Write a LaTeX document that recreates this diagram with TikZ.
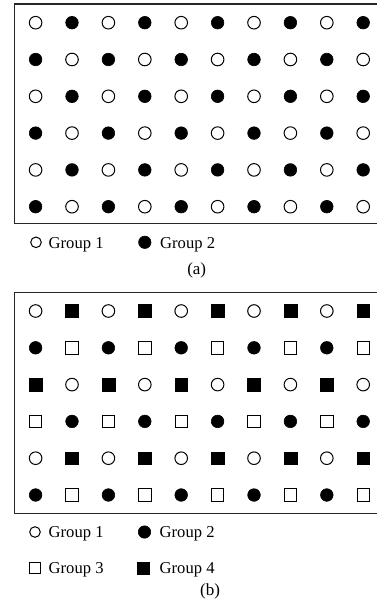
\documentclass[tikz,border=0pt]{standalone}
\usepackage{fontspec}
\setmainfont{Liberation Serif}
\begin{document}
\begin{tikzpicture}[x=1pt,y=-1pt,
  frame/.style={draw=black!85,line width=1.4pt},
  gone/.style={circle,draw=black,line width=1.0pt,fill=white,minimum size=12.6pt,inner sep=0pt},
  gtwo/.style={circle,draw=black,line width=0.6pt,fill=black,minimum size=12.6pt,inner sep=0pt},
  gthree/.style={rectangle,draw=black,line width=1.0pt,fill=white,minimum size=12.4pt,inner sep=0pt},
  gfour/.style={rectangle,draw=black,line width=0.6pt,fill=black,minimum size=12.8pt,inner sep=0pt},
  lone/.style={gone,minimum size=10.6pt},
  ltwo/.style={gtwo,minimum size=12.4pt},
  lthree/.style={gthree,minimum size=11.2pt},
  lfour/.style={gfour,minimum size=11.8pt},
  lab/.style={anchor=base west,inner sep=0pt,font=\fontsize{16.6}{19}\selectfont},
  captext/.style={anchor=base,inner sep=0pt,font=\fontsize{17}{19}\selectfont}]
\useasboundingbox (0,0) rectangle (377,602);
\clip (0,0) rectangle (377,602);
% frames
\coordinate (fa1) at (14.5,4);
\coordinate (fa2) at (395,223.3);
\draw[frame] (fa1) rectangle (fa2);
\coordinate (fb1) at (14.5,292.3);
\coordinate (fb2) at (395,513.3);
\draw[frame] (fb1) rectangle (fb2);
% panel (a)
\foreach \r in {0,...,5}{
  \foreach \c in {0,...,9}{
    \pgfmathtruncatemacro{\p}{mod(\r+\c,2)}
    \ifnum\p=0
      \node[gone] (a-\r-\c) at ({35.6+36.4*\c},{22.7+36.8*\r}) {};
    \else
      \node[gtwo] (a-\r-\c) at ({35.6+36.4*\c},{22.7+36.8*\r}) {};
    \fi
  }
}
\node[lone] (la1) at (36,242.3) {};
\node[lab] (ta1) at (48.5,248.8) {Group 1};
\node[ltwo] (la2) at (144.8,242.3) {};
\node[lab] (ta2) at (160,248.8) {Group 2};
\node[captext] (capa) at (196.7,274.7) {(a)};
% panel (b)
\foreach \r in {0,...,5}{
  \foreach \c in {0,...,9}{
    \pgfmathtruncatemacro{\rr}{mod(\r,4)}
    \pgfmathtruncatemacro{\p}{mod(\c,2)}
    \pgfmathtruncatemacro{\k}{\rr*2+\p}
    \ifcase\k
      \node[gone] (b-\r-\c) at ({35.6+36.4*\c},{311+36.8*\r}) {};
    \or
      \node[gfour] (b-\r-\c) at ({35.6+36.4*\c},{311+36.8*\r}) {};
    \or
      \node[gtwo] (b-\r-\c) at ({35.6+36.4*\c},{311+36.8*\r}) {};
    \or
      \node[gthree] (b-\r-\c) at ({35.6+36.4*\c},{311+36.8*\r}) {};
    \or
      \node[gfour] (b-\r-\c) at ({35.6+36.4*\c},{311+36.8*\r}) {};
    \or
      \node[gone] (b-\r-\c) at ({35.6+36.4*\c},{311+36.8*\r}) {};
    \or
      \node[gthree] (b-\r-\c) at ({35.6+36.4*\c},{311+36.8*\r}) {};
    \or
      \node[gtwo] (b-\r-\c) at ({35.6+36.4*\c},{311+36.8*\r}) {};
    \fi
  }
}
\node[lone] (lb1) at (35,532) {};
\node[lab] (tb1) at (48.5,537.5) {Group 1};
\node[ltwo] (lb2) at (144.5,532) {};
\node[lab] (tb2) at (159.5,537.5) {Group 2};
\node[lthree] (lb3) at (35,568.3) {};
\node[lab] (tb3) at (48.5,573.5) {Group 3};
\node[lfour] (lb4) at (143.5,568.3) {};
\node[lab] (tb4) at (159.5,573.5) {Group 4};
\node[captext] (capb) at (210,595.8) {(b)};
\end{tikzpicture}
\end{document}
